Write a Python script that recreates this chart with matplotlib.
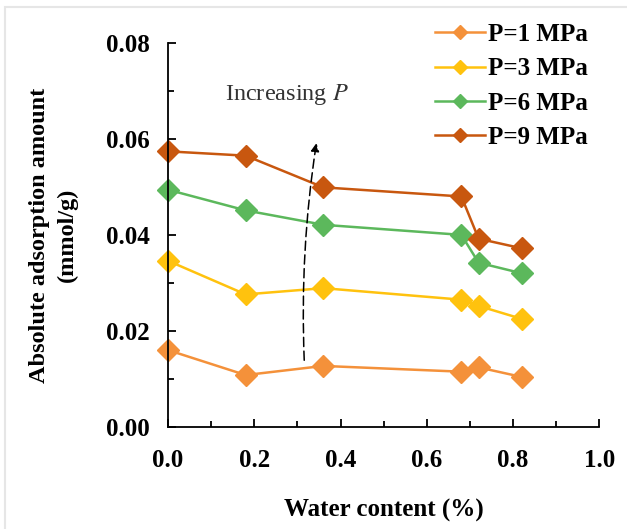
import matplotlib.pyplot as plt
from matplotlib.patches import Rectangle

plt.rcParams['font.family'] = 'Liberation Serif'
plt.rcParams['mathtext.fontset'] = 'stix'

water = [0.0, 0.18, 0.36, 0.68, 0.72, 0.82]
p1 = [0.0160, 0.0108, 0.0127, 0.0115, 0.0124, 0.0104]
p3 = [0.0346, 0.0276, 0.0289, 0.0265, 0.0252, 0.0225]
p6 = [0.0494, 0.0451, 0.0421, 0.0400, 0.0342, 0.0320]
p9 = [0.0574, 0.0565, 0.0499, 0.0480, 0.0392, 0.0372]
labels = ['P=1 MPa', 'P=3 MPa', 'P=6 MPa', 'P=9 MPa']
colors = ['#F4913A', '#FFC20E', '#5CB85C', '#C8570F']

fig = plt.figure(figsize=(6.27, 5.29), dpi=100)
ax = fig.add_axes([0.268, 0.193, 0.688, 0.726])

for y, lab, c in zip([p1, p3, p6, p9], labels, colors):
    ax.plot(water, y, marker='D', color=c, lw=1.8, markersize=11.5, label=lab, clip_on=False)

ax.set_xlim(0, 1.0)
ax.set_ylim(0, 0.08)
ax.set_xticks([0, 0.2, 0.4, 0.6, 0.8, 1.0])
ax.set_xticks([0.1, 0.3, 0.5, 0.7, 0.9], minor=True)
ax.set_yticks([0, 0.02, 0.04, 0.06, 0.08])
ax.set_yticks([0.01, 0.03, 0.05, 0.07], minor=True)
ax.set_xticklabels(['0.0', '0.2', '0.4', '0.6', '0.8', '1.0'])
ax.set_yticklabels(['0.00', '0.02', '0.04', '0.06', '0.08'])
for s in ['top', 'right']:
    ax.spines[s].set_visible(False)
for s in ['left', 'bottom']:
    ax.spines[s].set_linewidth(1.3)
ax.tick_params(which='both', direction='in', width=1.3, labelsize=18)
ax.tick_params(axis='x', which='major', pad=16)
ax.tick_params(axis='y', which='major', pad=13)
ax.tick_params(which='major', length=6)
ax.tick_params(which='minor', length=4)
for t in ax.get_xticklabels() + ax.get_yticklabels():
    t.set_fontweight('bold')

ax.set_xlabel('Water content (%)', fontsize=18, fontweight='bold', labelpad=19)
ax.set_ylabel('Absolute adsorption amount\n(mmol/g)', fontsize=17.5, fontweight='bold',
              labelpad=20, linespacing=1.45)

ax.annotate('', xy=(0.345, 0.0597), xytext=(0.316, 0.0133),
            arrowprops=dict(arrowstyle='-|>', ls=(0, (6, 3)), color='black', lw=1.1,
                            connectionstyle='arc3,rad=-0.05', mutation_scale=12))
ax.text(0.275, 0.0692, 'Increasing $\\mathit{P}$', fontsize=17.5, ha='center', va='center', color='#333333')

fig.legend(loc='upper right', bbox_to_anchor=(0.974, 0.999), frameon=False,
           prop={'weight': 'bold', 'size': 18}, handlelength=2.0, handletextpad=0.15,
           labelspacing=0.45, markerscale=0.65)

fig.patches.append(Rectangle((0.008, -0.01), 1.0, 0.997, transform=fig.transFigure,
                             fill=False, edgecolor='#e6e6e6', lw=1.5))

fig.savefig('out.png', dpi=100)
